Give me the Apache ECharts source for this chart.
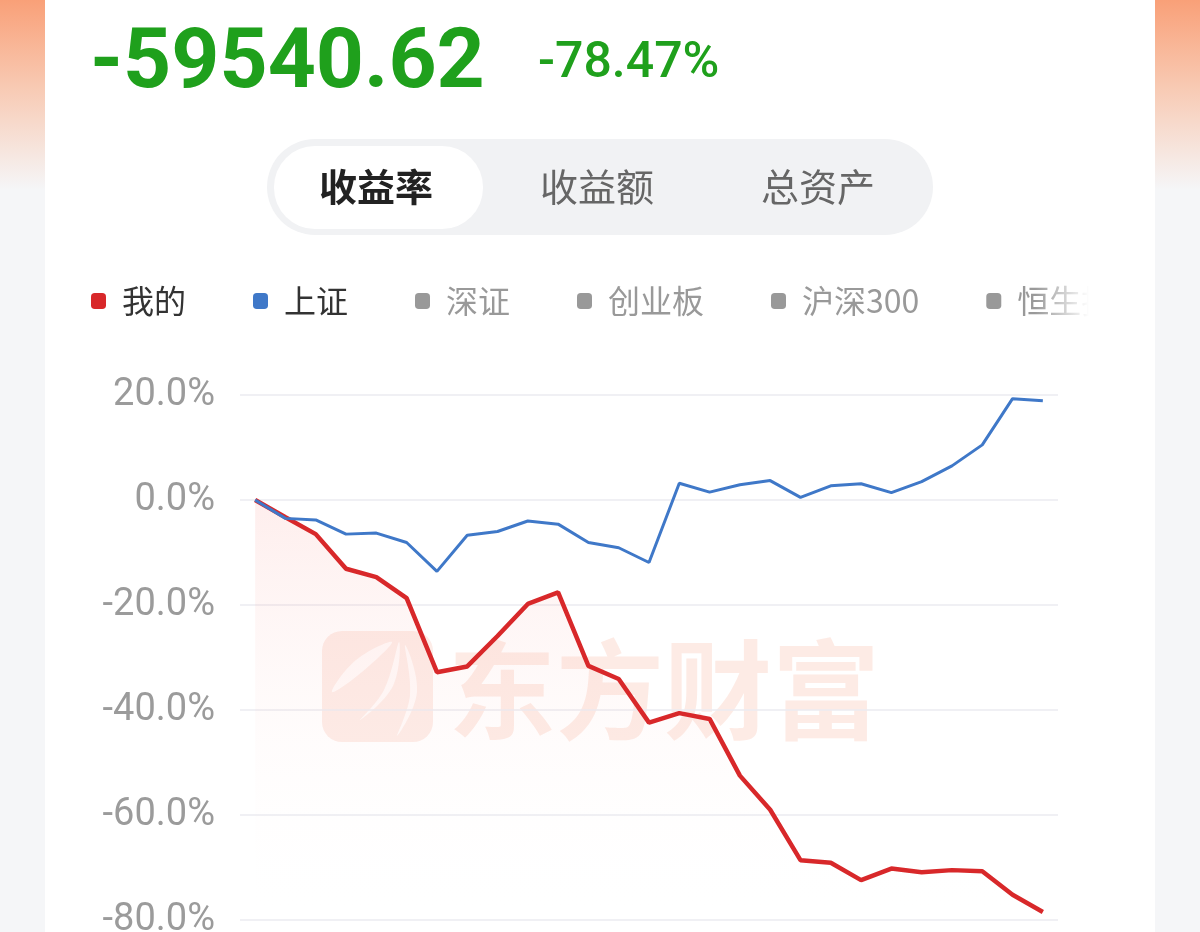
<!DOCTYPE html>
<html>
<head>
<meta charset="utf-8">
<script src="https://cdn.jsdelivr.net/npm/echarts@6/dist/echarts.min.js"></script>
<style>
html,body{margin:0;padding:0;background:#f5f6f8;}
#chart{width:1200px;height:932px;}
</style>
</head>
<body>
<div id="chart"></div>
<script>
// ---- data ----
const categories = ['1','2','3','4','5','6','7','8','9','10','11','12','13','14','15','16','17','18','19','20','21','22','23','24','25','26','27'];
const mineValues = [0, -3.3, -6.5, -13.1, -14.7, -18.7, -32.8, -31.7, -25.9, -19.8, -17.6, -31.6, -34.1, -42.4, -40.6, -41.7, -52.5, -59.0, -68.6, -69.1, -72.4, -70.2, -70.9, -70.5, -70.7, -75.2, -78.47];
const shValues = [0, -3.5, -3.8, -6.5, -6.3, -8.1, -13.6, -6.7, -6.0, -4.0, -4.6, -8.1, -9.1, -11.9, 3.2, 1.5, 2.9, 3.7, 0.5, 2.7, 3.1, 1.4, 3.5, 6.5, 10.5, 19.3, 18.9];
const legendNames = ['我的', '上证', '深证', '创业板', '沪深300', '恒生指数'];
const tabLabels = ['收益率', '收益额', '总资产'];
const totalProfit = '-59540.62';
const totalRate = '-78.47%';
const watermarkText = '东方财富';

const FONT = 'Roboto, "Noto Sans CJK SC", sans-serif';
const CJK = '"Noto Sans CJK SC", Roboto, sans-serif';
const GREEN = '#1fa01c';

const chart = echarts.init(document.getElementById('chart'), null, {renderer: 'canvas'});

const sideGrad = () => new echarts.graphic.LinearGradient(0, 0, 0, 1, [
  {offset: 0, color: '#f9a078'}, {offset: 0.45, color: '#f8c9b2'}, {offset: 1, color: '#f5f6f8'}]);
const featherStyle = {fill: 'rgba(255,255,255,0.75)'};

const graphics = [
  {type: 'rect', shape: {x: 45, y: 0, width: 1110, height: 932}, style: {fill: '#ffffff'}, z: -10, silent: true},
  {type: 'rect', shape: {x: 0, y: 0, width: 45, height: 190}, style: {fill: sideGrad()}, z: 200, silent: true},
  {type: 'rect', shape: {x: 1155, y: 0, width: 45, height: 190}, style: {fill: sideGrad()}, z: 200, silent: true},
  {type: 'rect', shape: {x: 1155, y: 190, width: 45, height: 742}, style: {fill: '#f5f6f8'}, z: 200, silent: true},
  {type: 'rect', shape: {x: 1035, y: 270, width: 120, height: 60},
   style: {fill: new echarts.graphic.LinearGradient(0, 0, 1, 0, [
     {offset: 0, color: 'rgba(255,255,255,0)'}, {offset: 0.45, color: 'rgba(255,255,255,1)'}, {offset: 1, color: 'rgba(255,255,255,1)'}])}, z: 150, silent: true},
  {type: 'text', x: 90, y: 66, style: {text: totalProfit, font: 'bold 84px Roboto, sans-serif', fill: GREEN, verticalAlign: 'middle', align: 'left'}, z: 10},
  {type: 'text', x: 538, y: 64, style: {text: totalRate, font: '500 50px Roboto, sans-serif', fill: GREEN, verticalAlign: 'middle', align: 'left'}, z: 10},
  {type: 'rect', shape: {x: 267, y: 139, width: 666, height: 96, r: 48}, style: {fill: '#f1f2f4'}, z: 5},
  {type: 'rect', shape: {x: 274, y: 146, width: 209, height: 83, r: 41}, style: {fill: '#ffffff'}, z: 6},
  {type: 'text', x: 376, y: 187, style: {text: tabLabels[0], font: 'bold 38px ' + CJK, fill: '#222222', align: 'center', verticalAlign: 'middle'}, z: 7},
  {type: 'text', x: 597, y: 187, style: {text: tabLabels[1], font: '38px ' + CJK, fill: '#666666', align: 'center', verticalAlign: 'middle'}, z: 7},
  {type: 'text', x: 818, y: 187, style: {text: tabLabels[2], font: '38px ' + CJK, fill: '#666666', align: 'center', verticalAlign: 'middle'}, z: 7},
  // watermark logo
  {type: 'rect', shape: {x: 322, y: 631, width: 111, height: 111, r: 20}, style: {fill: 'rgba(246,170,145,0.22)'}, z: -1, silent: true},
  {type: 'polygon', shape: {points: [[392, 642], [356, 660], [332, 692], [362, 672]], smooth: 0.4}, style: featherStyle, z: -1, silent: true},
  {type: 'polygon', shape: {points: [[399, 642], [384, 690], [360, 720], [393, 686]], smooth: 0.4}, style: featherStyle, z: -1, silent: true},
  {type: 'polygon', shape: {points: [[405, 645], [410, 695], [397, 736], [417, 692]], smooth: 0.4}, style: featherStyle, z: -1, silent: true},
  {type: 'text', x: 448, y: 690, style: {text: watermarkText, font: 'bold 108px ' + CJK, fill: 'rgba(246,165,135,0.22)', align: 'left', verticalAlign: 'middle'}, z: -1, silent: true}
];

const seriesColors = ['#d8282a', '#3f78c8', '#999999', '#999999', '#999999', '#999999'];
const series = [
  {
    name: legendNames[0], type: 'line', data: mineValues, showSymbol: false, symbol: 'none',
    lineStyle: {color: seriesColors[0], width: 4.5}, itemStyle: {color: seriesColors[0]},
    areaStyle: {origin: 'start', color: new echarts.graphic.LinearGradient(0, 0, 0, 1, [
      {offset: 0, color: 'rgba(248,110,100,0.17)'}, {offset: 1, color: 'rgba(255,255,255,0)'}])},
    z: 3
  },
  {
    name: legendNames[1], type: 'line', data: shValues, showSymbol: false, symbol: 'none',
    lineStyle: {color: seriesColors[1], width: 3}, itemStyle: {color: seriesColors[1]},
    z: 4
  }
];
for (let i = 2; i < legendNames.length; i++) {
  series.push({name: legendNames[i], type: 'line', data: [], symbol: 'none', itemStyle: {color: seriesColors[i]}});
}
const selected = {};
legendNames.forEach((n, i) => selected[n] = i < 2);

chart.setOption({
  animation: false,
  backgroundColor: 'transparent',
  graphic: graphics,
  legend: {
    data: legendNames, selected: selected,
    left: 91, top: 285, width: 1150, orient: 'horizontal', padding: 0,
    icon: 'roundRect', itemWidth: 15, itemHeight: 16, itemGap: 67,
    inactiveColor: '#999999', inactiveBorderColor: '#999999',
    textStyle: {fontSize: 32, color: '#333333', fontFamily: CJK, padding: [0, 0, 0, 11]}
  },
  grid: {left: 240, right: 142, top: 395, bottom: 12, containLabel: false, outerBoundsMode: 'none'},
  xAxis: {
    type: 'category', data: categories, boundaryGap: true,
    axisLine: {show: false}, axisTick: {show: false}, axisLabel: {show: false}, splitLine: {show: false}
  },
  yAxis: {
    type: 'value', min: -80, max: 20, interval: 20,
    axisLine: {show: false}, axisTick: {show: false},
    axisLabel: {formatter: v => v.toFixed(1) + '%', fontSize: 38, color: '#9b9b9b', margin: 25, fontFamily: FONT, padding: [8, 0, 0, 0]},
    splitLine: {lineStyle: {color: '#ebebf0', width: 1.5}}
  },
  series: series
});
</script>
</body>
</html>
